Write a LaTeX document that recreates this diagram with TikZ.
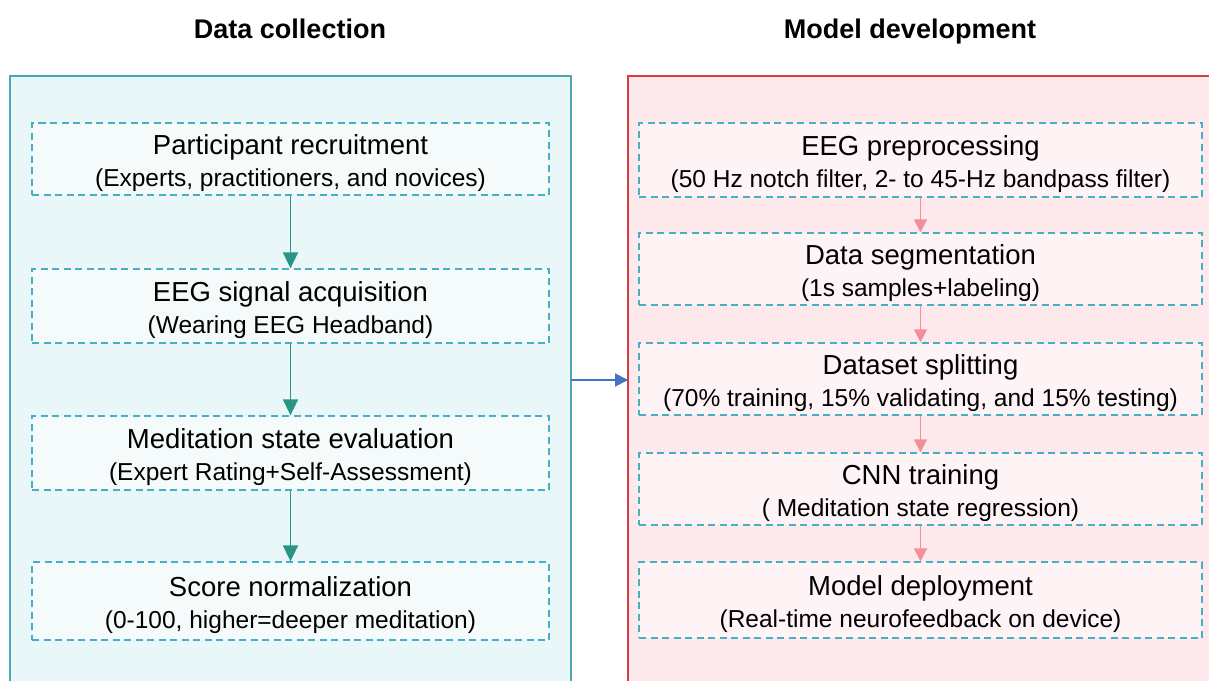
\documentclass[tikz,border=0pt]{standalone}
\usepackage{fontspec}
\setmainfont{Liberation Sans}
\usetikzlibrary{arrows.meta}
\definecolor{lpanel}{HTML}{EAF7F8}
\definecolor{lborder}{HTML}{4AA9B3}
\definecolor{rpanel}{HTML}{FDE8EC}
\definecolor{rborder}{HTML}{D83A44}
\definecolor{dashc}{HTML}{45AFC4}
\definecolor{tealarrow}{HTML}{2A9486}
\definecolor{pinkarrow}{HTML}{F0909A}
\definecolor{bluearrow}{HTML}{4472C4}
\tikzset{
  stepbox/.style={draw=dashc, line width=1.3pt, dash pattern=on 7pt off 4.5pt,
    fill=white, fill opacity=0.55, rectangle, inner sep=0pt},
  leftbox/.style={stepbox, minimum width=517pt},
  rightbox/.style={stepbox, minimum width=563pt},
  steptext/.style={align=center, inner sep=0pt, font=\fontsize{24.5}{32}\selectfont},
  tealarr/.style={draw=tealarrow, line width=1.8pt, -{Triangle[length=16pt,width=15pt]}, fill=tealarrow},
  pinkarr/.style={draw=pinkarrow, line width=1.6pt, -{Triangle[length=13pt,width=13pt]}, fill=pinkarrow},
  headtitle/.style={font=\bfseries\fontsize{27}{32}\selectfont, anchor=base},
}
\newcommand{\tl}[1]{{\fontsize{27.5}{32}\selectfont #1}}
\begin{document}
\begin{tikzpicture}[x=1pt,y=-1pt]
\useasboundingbox (0,0) rectangle (1209,680);
\clip (0,0) rectangle (1209,680);
\fill[white] (0,0) rectangle (1209,680);
% panels
\draw[lborder, fill=lpanel, line width=1.3pt] (10,76) rectangle (571,700);
\draw[rborder, fill=rpanel, line width=1.3pt] (628,76) rectangle (1230,700);
% titles
\node[headtitle] (t1) at (290,38) {Data collection};
\node[headtitle] (t2) at (910,38) {Model development};
% left boxes
\node[leftbox, minimum height=72pt] (L1) at (290.5,159) {};
\node[leftbox, minimum height=74pt] (L2) at (290.5,306) {};
\node[leftbox, minimum height=74pt] (L3) at (290.5,453) {};
\node[leftbox, minimum height=78pt] (L4) at (290.5,601) {};
\node[steptext] (L1t) at ([yshift=-4pt]L1.center) {\tl{Participant recruitment}\\(Experts, practitioners, and novices)};
\node[steptext] (L2t) at ([yshift=-4pt]L2.center) {\tl{EEG signal acquisition}\\(Wearing EEG Headband)};
\node[steptext] (L3t) at ([yshift=-4pt]L3.center) {\tl{Meditation state evaluation}\\(Expert Rating+Self-Assessment)};
\node[steptext] (L4t) at ([yshift=-4pt]L4.center) {\tl{Score normalization}\\(0-100, higher=deeper meditation)};
% right boxes
\node[rightbox, minimum height=74pt] (R1) at (920.5,160) {};
\node[rightbox, minimum height=72pt] (R2) at (920.5,269) {};
\node[rightbox, minimum height=72pt] (R3) at (920.5,379) {};
\node[rightbox, minimum height=72pt] (R4) at (920.5,489) {};
\node[rightbox, minimum height=76pt] (R5) at (920.5,600) {};
\node[steptext] (R1t) at ([yshift=-4pt]R1.center) {\tl{EEG preprocessing}\\(50 Hz notch filter, 2- to 45-Hz bandpass filter)};
\node[steptext] (R2t) at ([yshift=-4pt]R2.center) {\tl{Data segmentation}\\(1s samples+labeling)};
\node[steptext] (R3t) at ([yshift=-4pt]R3.center) {\tl{Dataset splitting}\\(70\% training, 15\% validating, and 15\% testing)};
\node[steptext] (R4t) at ([yshift=-4pt]R4.center) {\tl{CNN training}\\( Meditation state regression)};
\node[steptext] (R5t) at ([yshift=-4pt]R5.center) {\tl{Model deployment}\\(Real-time neurofeedback on device)};
% arrows
\draw[tealarr] (L1.south) -- (L2.north);
\draw[tealarr] (L2.south) -- (L3.north);
\draw[tealarr] (L3.south) -- (L4.north);
\draw[pinkarr] (R1.south) -- (R2.north);
\draw[pinkarr] (R2.south) -- (R3.north);
\draw[pinkarr] (R3.south) -- (R4.north);
\draw[pinkarr] (R4.south) -- (R5.north);
\coordinate (pa) at (571,380);
\coordinate (pb) at (628,380);
\draw[bluearrow, line width=1.6pt, -{Triangle[length=13pt,width=13pt]}] (pa) -- (pb);
\end{tikzpicture}
\end{document}
